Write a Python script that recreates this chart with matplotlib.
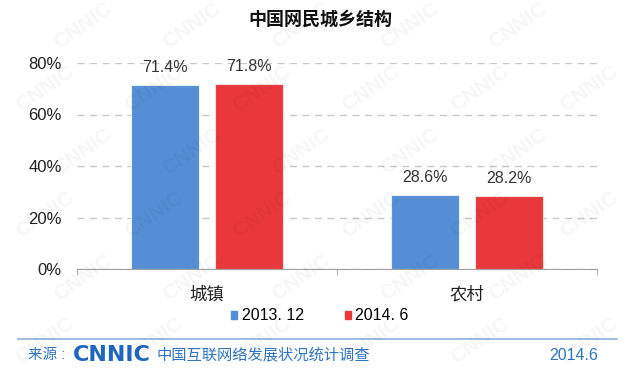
import matplotlib
matplotlib.use('Agg')
import matplotlib.pyplot as plt
from matplotlib.patches import Patch
import numpy as np

plt.rcParams['font.family'] = ['Liberation Sans', 'Noto Sans CJK SC', 'DejaVu Sans']

# 數據
categories = ['城镇', '农村']
series_names = ['2013. 12', '2014. 6']
values_2013 = [71.4, 28.6]
values_2014 = [71.8, 28.2]
yticks = [0, 20, 40, 60, 80]

blue = '#558ed5'
red = '#e9383b'
footer_blue = '#2f75c0'

fig = plt.figure(figsize=(6.4, 3.7), dpi=100)
ax = fig.add_axes([77 / 640, 1 - 269 / 370, 520 / 640, 206 / 370])

# 浮水印 (淡灰色 CNNIC)
for row in range(6):
    for col in range(6):
        fx = 0.07 + col * 0.17 + (row % 2) * 0.06
        fy = 0.08 + row * 0.17
        if fx > 0.93:
            continue
        fig.text(fx, fy, 'CNNIC', rotation=35, fontsize=15, fontweight='bold',
                 color='#000000', alpha=0.04, ha='center', va='center', zorder=10)

x = np.arange(len(categories))
w = 0.262
off = 0.162
b1 = ax.bar(x - off, values_2013, w, color=blue, edgecolor='#e8eef8', linewidth=0.8, zorder=3)
b2 = ax.bar(x + off, values_2014, w, color=red, edgecolor='#f6dede', linewidth=0.8, zorder=3)

for bars, vals in [(b1, values_2013), (b2, values_2014)]:
    for r, v in zip(bars, vals):
        ax.text(r.get_x() + r.get_width() / 2, v + 4, '%.1f%%' % v,
                ha='center', va='bottom', fontsize=11.5, color='#333333')

ax.set_xlim(-0.5, 1.5)
ax.set_ylim(0, 80)
ax.set_yticks(yticks)
ax.set_yticklabels(['%d%%' % t for t in yticks], fontsize=12, color='#222222')
ax.yaxis.grid(True, linestyle=(0, (5, 4)), color='#c8c8c8', linewidth=1)
ax.set_axisbelow(True)
ax.tick_params(axis='y', length=0, pad=11)

ax.set_xticks(x)
ax.set_xticklabels(categories, fontsize=12.5, color='#222222')
ax.set_xticks([-0.5, 0.5, 1.5], minor=True)
ax.tick_params(axis='x', which='major', length=0, pad=12)
ax.tick_params(axis='x', which='minor', length=4, direction='out', color='#a0a0a0')
for s in ['top', 'right', 'left']:
    ax.spines[s].set_visible(False)
ax.spines['bottom'].set_color('#a0a0a0')

# 標題
fig.text(0.5, 1 - 20 / 370, '中国网民城乡结构', ha='center', va='center',
         fontsize=13, fontweight='bold', color='#111111')

# 圖例
handles = [Patch(color=blue, label=series_names[0]), Patch(color=red, label=series_names[1])]
fig.legend(handles=handles, loc='center', bbox_to_anchor=(0.5, 1 - 316 / 370), ncol=2,
           frameon=False, fontsize=11.5, handlelength=0.35, handleheight=0.35,
           handletextpad=0.3, columnspacing=2.6)

# 頁尾
line = plt.Line2D([18 / 640, 617 / 640], [1 - 339 / 370] * 2, color='#8fb0dd',
                  linewidth=1.2, transform=fig.transFigure)
fig.add_artist(line)
fy = 1 - 355 / 370
fig.text(28 / 640, fy, '来源 :', ha='left', va='center', fontsize=10.5, color=footer_blue)
fig.text(73 / 640, fy, 'CNNIC', ha='left', va='center', fontsize=16, fontweight='bold',
         color='#1f66bf', family='DejaVu Sans')
fig.text(157 / 640, fy, '中国互联网络发展状况统计调查', ha='left', va='center',
         fontsize=11, color=footer_blue)
fig.text(598 / 640, fy, '2014.6', ha='right', va='center', fontsize=11.5, color=footer_blue)

fig.savefig('out.png', dpi=100)
